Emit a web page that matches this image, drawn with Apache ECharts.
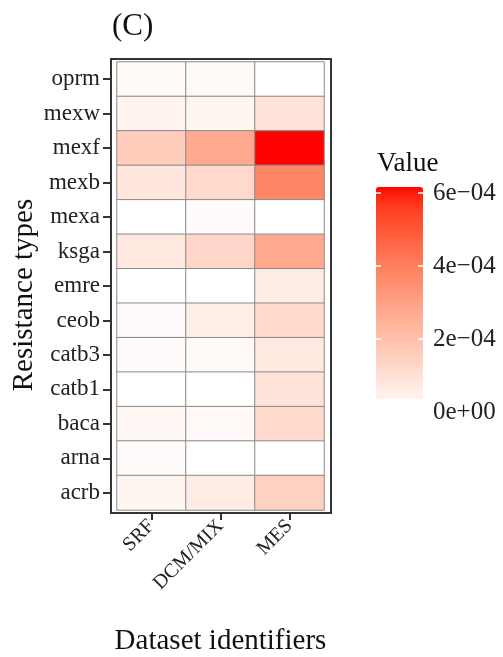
<!DOCTYPE html>
<html>
<head>
<meta charset="utf-8">
<script src="https://cdn.jsdelivr.net/npm/echarts@6/dist/echarts.min.js"></script>
<style>
  html, body { margin: 0; padding: 0; background: #fff; }
  #main { width: 503px; height: 657px; }
</style>
</head>
<body>
<div id="main"></div>
<script>
// categories
const datasets = ['SRF', 'DCM/MIX', 'MES'];
const resTypes = ['oprm', 'mexw', 'mexf', 'mexb', 'mexa', 'ksga', 'emre', 'ceob', 'catb3', 'catb1', 'baca', 'arna', 'acrb'];

// values per dataset, same order as resTypes
const srfVals = [0.18e-4, 0.37e-4, 1.6e-4, 0.8e-4, 0, 0.74e-4, 0, 0.12e-4, 0.12e-4, 0, 0.25e-4, 0.12e-4, 0.3e-4];
const dcmVals = [0.18e-4, 0.3e-4, 2.7e-4, 1.23e-4, 0.12e-4, 1.3e-4, 0, 0.55e-4, 0.18e-4, 0, 0.18e-4, 0, 0.62e-4];
const mesVals = [0, 0.92e-4, 6.15e-4, 3.8e-4, 0, 2.7e-4, 0.62e-4, 1.23e-4, 0.68e-4, 0.86e-4, 1.23e-4, 0, 1.48e-4];

// colour bar
const scaleMin = 0, scaleMax = 6.16e-4;
const barMin = 0.356e-4;
const legendTicks = [0, 2e-4, 4e-4, 6e-4];
const legendLabels = ['0e+00', '2e\u221204', '4e\u221204', '6e\u221204'];

const SERIF = 'Liberation Serif';

// white -> red in Lab, like ggplot's scale_fill_gradient
function labHex(t) {
    const L = 100 + (53.2408 - 100) * t, A = 80.0925 * t, B = 67.2032 * t;
    const fy = (L + 16) / 116, fx = fy + A / 500, fz = fy - B / 200;
    const inv = f => f * f * f > 0.008856 ? f * f * f : (f - 16 / 116) / 7.787;
    const X = 0.95047 * inv(fx), Y = inv(fy), Z = 1.08883 * inv(fz);
    const lin = [3.2406 * X - 1.5372 * Y - 0.4986 * Z, -0.9689 * X + 1.8758 * Y + 0.0415 * Z, 0.0557 * X - 0.2040 * Y + 1.0570 * Z];
    return '#' + lin.map(c => {
        c = c <= 0.0031308 ? 12.92 * c : 1.055 * Math.pow(Math.max(c, 0), 1 / 2.4) - 0.055;
        const v = Math.round(Math.min(1, Math.max(0, c)) * 255);
        return v.toString(16).padStart(2, '0');
    }).join('');
}
function ramp(t0, n) {
    const out = [];
    for (let i = 0; i <= n; i++) out.push(labHex(t0 + (1 - t0) * i / n));
    return out;
}

const cells = [];
[srfVals, dcmVals, mesVals].forEach((col, x) => col.forEach((v, y) => cells.push([x, y, v])));

const tick = { show: true, alignWithLabel: true, length: 7, lineStyle: { color: '#333', width: 2 } };

const chart = echarts.init(document.getElementById('main'));
chart.setOption({
    animation: false,
    backgroundColor: '#fff',
    title: { text: '(C)', left: 107, top: 6, textStyle: { fontFamily: SERIF, fontSize: 31, fontWeight: 'normal', color: '#111' } },
    grid: [
        { left: 117, top: 62, width: 207, height: 448, outerBoundsMode: 'none', containLabel: false },
        { left: 111, top: 59, width: 220, height: 454, outerBoundsMode: 'none', show: true, borderColor: '#333', borderWidth: 2, backgroundColor: 'transparent' },
        { left: 376, top: 193, width: 47, height: 219, outerBoundsMode: 'none' }
    ],
    xAxis: [
        { type: 'category', gridIndex: 0, data: datasets, offset: 3, z: 5,
          axisLine: { show: true, lineStyle: { color: 'transparent' } },
          axisTick: tick,
          axisLabel: { rotate: 45, margin: 10, fontFamily: SERIF, fontSize: 20, color: '#222' },
          name: 'Dataset identifiers', nameLocation: 'middle', nameGap: 114,
          nameTextStyle: { fontFamily: SERIF, fontSize: 29, color: '#111' } },
        { type: 'value', gridIndex: 1, show: false },
        { type: 'value', gridIndex: 2, show: false }
    ],
    yAxis: [
        { type: 'category', gridIndex: 0, data: resTypes, inverse: true, offset: 7, z: 5,
          axisLine: { show: true, lineStyle: { color: 'transparent' } },
          axisTick: tick,
          axisLabel: { margin: 10, fontFamily: SERIF, fontSize: 23, color: '#222' },
          name: 'Resistance types', nameLocation: 'middle', nameGap: 71,
          nameTextStyle: { fontFamily: SERIF, fontSize: 29, color: '#111', padding: [0, 18, 0, 0] } },
        { type: 'value', gridIndex: 1, show: false },
        { type: 'value', gridIndex: 2, position: 'left', min: 0, max: 6e-4, interval: 2e-4, z: 10,
          axisLine: { show: false }, splitLine: { show: false }, axisLabel: { show: false },
          axisTick: { show: true, inside: true, length: 5, lineStyle: { color: '#fff', width: 1.5 } } },
        { type: 'value', gridIndex: 2, position: 'right', min: 0, max: 6e-4, interval: 2e-4, z: 10,
          axisLine: { show: false }, splitLine: { show: false },
          axisTick: { show: true, inside: true, length: 5, lineStyle: { color: '#fff', width: 1.5 } },
          axisLabel: { margin: 10, fontFamily: SERIF, fontSize: 25, color: '#222',
              formatter: v => legendLabels[legendTicks.findIndex(t => Math.abs(t - v) < 1e-9)] } }
    ],
    visualMap: [
        { type: 'continuous', show: false, seriesIndex: 0, dimension: 2, min: scaleMin, max: scaleMax,
          inRange: { color: ramp(0, 24) } },
        { type: 'continuous', show: true, seriesIndex: 1, min: barMin, max: scaleMax, calculable: false,
          left: 376, top: 187, itemWidth: 47, itemHeight: 212, padding: 0,
          inRange: { color: ramp(barMin / scaleMax, 24) } }
    ],
    graphic: [
        { type: 'text', left: 377, top: 150, style: { text: 'Value', fontFamily: SERIF, fontSize: 27, fill: '#111' } }
    ],
    series: [
        { type: 'heatmap', xAxisIndex: 0, yAxisIndex: 0, data: cells,
          itemStyle: { borderColor: '#8a8a8a', borderWidth: 1 },
          emphasis: { disabled: true } },
        { type: 'scatter', xAxisIndex: 1, yAxisIndex: 1, data: [] }
    ]
});
</script>
</body>
</html>
